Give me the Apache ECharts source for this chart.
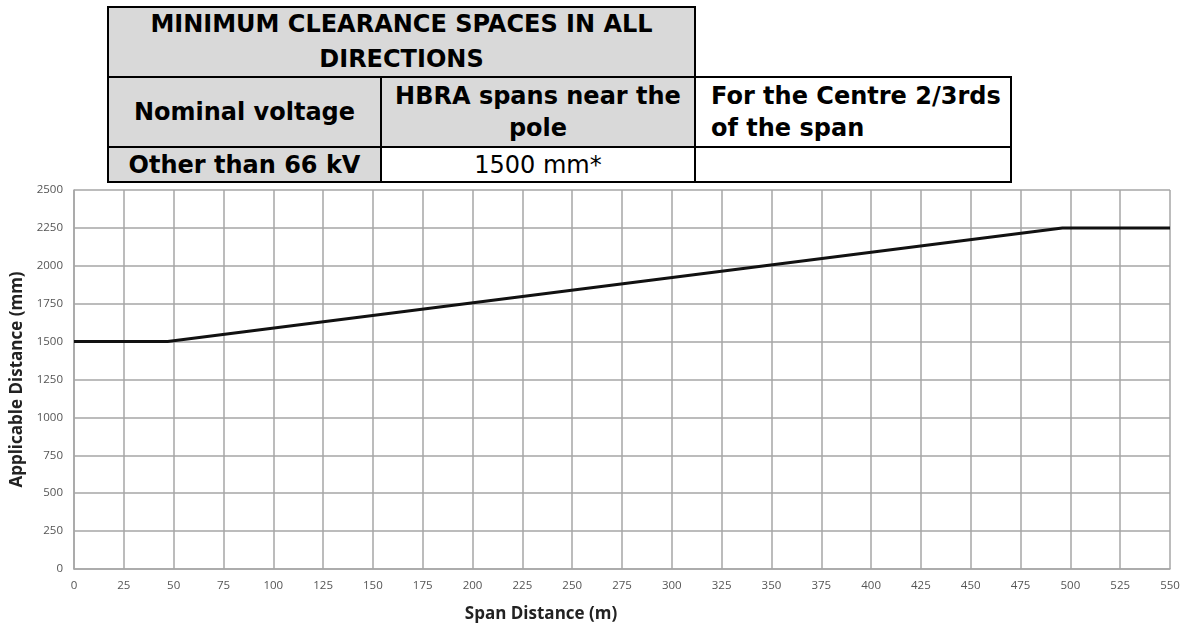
<!DOCTYPE html>
<html>
<head>
<meta charset="utf-8">
<script src="https://cdn.jsdelivr.net/npm/echarts@6/dist/echarts.min.js"></script>
<style>
  html, body { margin:0; padding:0; background:#fff; }
  #wrap { position:relative; width:1189px; height:628px; overflow:hidden; }
  #chart { position:absolute; left:0; top:0; width:1189px; height:628px; }
  .cell { position:absolute; box-sizing:border-box; border:2px solid #000; display:flex; align-items:center; justify-content:center; text-align:center; font-family:'DejaVu Sans', sans-serif; font-weight:bold; font-size:24px; color:#000; }
  .gray { background:#d9d9d9; }
  .white { background:#fff; }
</style>
</head>
<body>
<div id="wrap">
  <div id="chart"></div>
  <div id="table"></div>
</div>
<script>
// ---- Data ----
const tableTitle = ['MINIMUM CLEARANCE SPACES IN ALL', 'DIRECTIONS'];
const tableHeaders = [['Nominal voltage'], ['HBRA spans near the', 'pole'], ['For the Centre 2/3rds', 'of the span']];
const tableRow = ['Other than 66 kV', '1500 mm*', ''];

const spanDistance = [0, 47, 496, 550];              // m
const applicableDistance = [1500, 1500, 2250, 2250]; // mm

const xTicks = { min: 0, max: 550, step: 25 };
const yTicks = { min: 0, max: 2500, step: 250 };

const xAxisTitle = 'Span Distance (m)';
const yAxisTitle = 'Applicable Distance (mm)';

// ---- Table (HTML overlay) ----
const R = 1012;
const cells = [
  { l:107, t:6,   w:696-107, h:72, cls:'gray',  lines:tableTitle, lh:35 },
  { l:107, t:76,  w:382-107, h:72, cls:'gray',  lines:tableHeaders[0], lh:32 },
  { l:380, t:76,  w:696-380, h:72, cls:'gray',  lines:tableHeaders[1], lh:32 },
  { l:694, t:76,  w:R-694,   h:72, cls:'white', lines:tableHeaders[2], lh:32, left:true },
  { l:107, t:146, w:382-107, h:37, cls:'gray',  lines:[tableRow[0]], lh:30 },
  { l:380, t:146, w:696-380, h:37, cls:'white', lines:[tableRow[1]], lh:30, normal:true },
  { l:694, t:146, w:R-694,   h:37, cls:'white', lines:[tableRow[2]], lh:30 }
];
const tbl = document.getElementById('table');
cells.forEach(c => {
  const d = document.createElement('div');
  d.className = 'cell ' + c.cls;
  d.style.left = c.l + 'px'; d.style.top = c.t + 'px';
  d.style.width = c.w + 'px'; d.style.height = c.h + 'px';
  d.style.lineHeight = c.lh + 'px';
  if (c.left) { d.style.justifyContent = 'flex-start'; d.style.textAlign = 'left'; d.style.paddingLeft = '15px'; }
  if (c.normal) { d.style.fontWeight = 'normal'; }
  d.innerHTML = c.lines.join('<br>');
  tbl.appendChild(d);
});

// ---- Chart ----
const chart = echarts.init(document.getElementById('chart'), null, { renderer: 'canvas' });
const gridColor = '#a6a6a6';
chart.setOption({
  backgroundColor: '#ffffff',
  animation: false,
  grid: { left: 74, right: 19, top: 190, bottom: 58, containLabel: false },
  xAxis: {
    type: 'value',
    min: xTicks.min, max: xTicks.max, interval: xTicks.step,
    name: xAxisTitle,
    nameLocation: 'middle',
    nameGap: 37,
    nameTextStyle: { fontFamily: 'Open Sans', fontWeight: 'bold', fontSize: 17, color: '#222', padding: [0, 162, 0, 0] },
    axisLine: { show: true, lineStyle: { color: gridColor, width: 1.5 } },
    axisTick: { show: false },
    axisLabel: { fontFamily: 'Open Sans', fontSize: 11.5, color: '#555', margin: 11, formatter: v => String(v) },
    splitLine: { show: true, lineStyle: { color: gridColor, width: 1.5 } }
  },
  yAxis: {
    type: 'value',
    min: yTicks.min, max: yTicks.max, interval: yTicks.step,
    name: yAxisTitle,
    nameLocation: 'middle',
    nameGap: 44,
    nameTextStyle: { fontFamily: 'Open Sans', fontWeight: 'bold', fontSize: 17, color: '#222' },
    axisLine: { show: true, lineStyle: { color: gridColor, width: 1.5 } },
    axisTick: { show: false },
    axisLabel: { fontFamily: 'Open Sans', fontSize: 11.5, color: '#555', margin: 11, formatter: v => String(v) },
    splitLine: { show: true, lineStyle: { color: gridColor, width: 1.5 } }
  },
  series: [{
    type: 'line',
    data: spanDistance.map((x, i) => [x, applicableDistance[i]]),
    symbol: 'none',
    lineStyle: { color: '#111', width: 3 },
    z: 5
  }]
});
</script>
</body>
</html>
